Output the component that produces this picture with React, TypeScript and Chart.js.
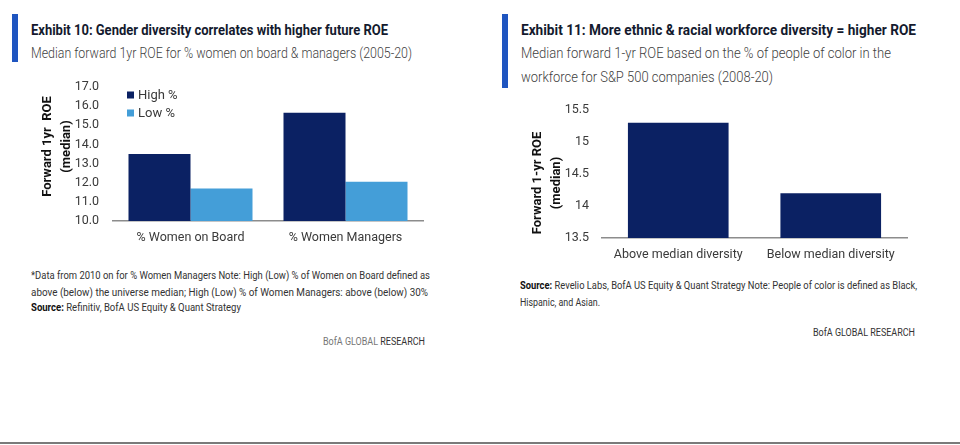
import React, { useEffect, useLayoutEffect, useRef } from "react";
import { Chart, registerables } from "chart.js";

Chart.register(...registerables);

// ---------- Data ----------
const catsA = ["% Women on Board", "% Women Managers"];
const seriesLabelsA = ["High %", "Low %"];
const highA = [13.5, 15.65];
const lowA = [11.7, 12.05];
const yTitleA = ["Forward 1yr  ROE", "(median)"];
const yMinA = 10;
const yMaxA = 17;
const yStepA = 1;

const catsB = ["Above median diversity", "Below median diversity"];
const valsB = [15.3, 14.2];
const yTitleB = ["Forward 1-yr ROE", "(median)"];
const yMinB = 13.5;
const yMaxB = 15.5;
const yStepB = 0.5;

// ---------- Styles ----------
const FONT = 'Roboto, "Liberation Sans", "DejaVu Sans", sans-serif';
const NAVY = "#0b2163";
const LIGHT = "#449ed8";
const ACCENT = "#1f55c0";
const AXIS = "#8c8c8c";
const TICK = "#3a3a3a";

const insideLegend = {
  id: "insideLegend",
  afterDatasetsDraw(chart: any, _args: any, opts: any) {
    if (!opts || !opts.enabled) return;
    const { ctx, chartArea } = chart;
    ctx.save();
    ctx.font = `13px ${FONT}`;
    ctx.textBaseline = "middle";
    ctx.textAlign = "left";
    chart.data.datasets.forEach((ds: any, i: number) => {
      const x = chartArea.left + 14;
      const y = chartArea.top + 8 + i * 18;
      ctx.fillStyle = ds.backgroundColor;
      ctx.fillRect(x, y - 3.5, 7, 7);
      ctx.fillStyle = TICK;
      ctx.fillText(ds.label, x + 11, y + 0.5);
    });
    ctx.restore();
  },
};

// Rotated two-line y-axis title, placed next to the y scale
const yAxisTitle = {
  id: "yAxisTitle",
  afterDraw(chart: any, _args: any, opts: any) {
    if (!opts || !opts.text) return;
    const { ctx, chartArea } = chart;
    const ys = chart.scales.y;
    const cy = (chartArea.top + chartArea.bottom) / 2 + (opts.dy || 0);
    ctx.save();
    ctx.font = `bold 13px ${FONT}`;
    ctx.fillStyle = "#111";
    ctx.textAlign = "center";
    ctx.textBaseline = "middle";
    opts.text.forEach((line: string, i: number) => {
      ctx.save();
      ctx.translate(ys.left + opts.x0 + i * opts.gap, cy);
      ctx.rotate(-Math.PI / 2);
      ctx.fillText(line, 0, 0);
      ctx.restore();
    });
    ctx.restore();
  },
};

function makeOptions(p: {
  yMin: number;
  yMax: number;
  yStep: number;
  yTitle: string[];
  titleDy: number;
  yWidth: number;
  xHeight: number;
  tickPad: number;
  padTop: number;
  padRight: number;
  fixed: boolean;
  legend: boolean;
}) {
  return {
    animation: false,
    responsive: false,
    maintainAspectRatio: false,
    layout: { padding: { top: p.padTop, right: p.padRight, left: 0, bottom: 0 } },
    plugins: {
      legend: { display: false },
      tooltip: { enabled: false },
      insideLegend: { enabled: p.legend },
      yAxisTitle: { text: p.yTitle, x0: 18, gap: 19, dy: p.titleDy },
    },
    scales: {
      x: {
        grid: { display: false, drawTicks: false },
        border: { display: true, color: AXIS, width: 1.5 },
        ticks: { color: TICK, font: { family: FONT, size: 12.5 }, padding: 9, autoSkip: false, maxRotation: 0 },
        afterFit: (s: any) => {
          s.height = p.xHeight;
          s.paddingLeft = 0;
          s.paddingRight = 0;
        },
      },
      y: {
        min: p.yMin,
        max: p.yMax,
        grid: { display: false, drawTicks: false },
        border: { display: false },
        ticks: {
          stepSize: p.yStep,
          autoSkip: false,
          color: TICK,
          font: { family: FONT, size: 12.5 },
          padding: p.tickPad,
          callback: (v: any) => (p.fixed ? Number(v).toFixed(1) : String(Number(v))),
        },
        title: { display: false },
        afterFit: (s: any) => {
          s.width = p.yWidth;
          s.paddingTop = 0;
          s.paddingBottom = 0;
        },
      },
    },
  };
}

function ChartA() {
  const ref = useRef<HTMLCanvasElement>(null);
  useEffect(() => {
    const chart = new Chart(ref.current as HTMLCanvasElement, {
      type: "bar",
      data: {
        labels: catsA,
        datasets: [
          {
            label: seriesLabelsA[0],
            data: highA,
            backgroundColor: NAVY,
            barPercentage: 1,
            categoryPercentage: 0.8,
          },
          {
            label: seriesLabelsA[1],
            data: lowA,
            backgroundColor: LIGHT,
            barPercentage: 1,
            categoryPercentage: 0.8,
          },
        ],
      },
      options: makeOptions({
        yMin: yMinA,
        yMax: yMaxA,
        yStep: yStepA,
        yTitle: yTitleA,
        titleDy: -7.5,
        yWidth: 83,
        xHeight: 29,
        tickPad: 14,
        padTop: 10,
        padRight: 7,
        fixed: true,
        legend: true,
      }) as any,
      plugins: [insideLegend as any, yAxisTitle as any],
    });
    return () => chart.destroy();
  }, []);
  return (
    <canvas
      ref={ref}
      width={400}
      height={173}
      style={{ position: "absolute", left: 30, top: 77, width: 400, height: 173 }}
    />
  );
}

function ChartB() {
  const ref = useRef<HTMLCanvasElement>(null);
  useEffect(() => {
    const chart = new Chart(ref.current as HTMLCanvasElement, {
      type: "bar",
      data: {
        labels: catsB,
        datasets: [
          {
            label: "Median forward 1-yr ROE",
            data: valsB,
            backgroundColor: NAVY,
            barPercentage: 1,
            categoryPercentage: 0.66,
          },
        ],
      },
      options: makeOptions({
        yMin: yMinB,
        yMax: yMaxB,
        yStep: yStepB,
        yTitle: yTitleB,
        titleDy: 9,
        yWidth: 82,
        xHeight: 29,
        tickPad: 13,
        padTop: 10,
        padRight: 8,
        fixed: false,
        legend: false,
      }) as any,
      plugins: [insideLegend as any, yAxisTitle as any],
    });
    return () => chart.destroy();
  }, []);
  return (
    <canvas
      ref={ref}
      width={395}
      height={167}
      style={{ position: "absolute", left: 520, top: 100, width: 395, height: 167 }}
    />
  );
}

// Text line squeezed horizontally to a given width (the source uses a condensed face)
function Fit(props: { left: number; center: number; width: number; lh: number; style: any; children: any }) {
  const ref = useRef<HTMLDivElement>(null);
  useLayoutEffect(() => {
    const apply = () => {
      const el = ref.current;
      if (!el) return;
      el.style.transform = "none";
      const w = el.getBoundingClientRect().width;
      if (w > 0) el.style.transform = `scaleX(${props.width / w})`;
    };
    apply();
    const fonts: any = (document as any).fonts;
    if (fonts && fonts.ready) fonts.ready.then(apply);
  });
  return (
    <div
      ref={ref}
      style={{
        position: "absolute",
        left: props.left,
        top: props.center - props.lh / 2,
        display: "inline-block",
        whiteSpace: "nowrap",
        lineHeight: `${props.lh}px`,
        transformOrigin: "left center",
        ...props.style,
      }}
    >
      {props.children}
    </div>
  );
}

export default function App() {
  const titleStyle = { fontFamily: FONT, fontWeight: 700, fontSize: 14, color: "#141a2e" };
  const subStyle = { fontFamily: FONT, fontWeight: 300, fontSize: 14, color: "#3f3f3f" };
  const noteStyle = { fontFamily: FONT, fontSize: 10.5, color: "#333" };
  return (
    <div
      style={{
        position: "absolute",
        left: 0,
        top: 0,
        width: 960,
        height: 445,
        background: "#fff",
        overflow: "hidden",
        fontFamily: FONT,
      }}
    >
      {/* Left panel */}
      <div style={{ position: "absolute", left: 12, top: 14, width: 6, height: 48, background: ACCENT }} />
      <Fit left={31} center={30} width={357} lh={18} style={titleStyle}>
        Exhibit 10: Gender diversity correlates with higher future ROE
      </Fit>
      <Fit left={31} center={52.5} width={381} lh={20} style={subStyle}>
        Median forward 1yr ROE for % women on board &amp; managers (2005-20)
      </Fit>
      <ChartA />
      <Fit left={31} center={275.5} width={399} lh={14} style={noteStyle}>
        *Data from 2010 on for % Women Managers Note: High (Low) % of Women on Board defined as
      </Fit>
      <Fit left={31} center={292.5} width={397} lh={14} style={noteStyle}>
        above (below) the universe median; High (Low) % of Women Managers: above (below) 30%
      </Fit>
      <Fit left={31} center={307.5} width={210} lh={14} style={noteStyle}>
        <b style={{ color: "#111" }}>Source:</b> Refinitiv, BofA US Equity &amp; Quant Strategy
      </Fit>
      <Fit left={323} center={342} width={102} lh={14} style={noteStyle}>
        <span style={{ color: "#777" }}>BofA GLOBAL </span>
        <span style={{ color: "#333" }}>RESEARCH</span>
      </Fit>

      {/* Right panel */}
      <div style={{ position: "absolute", left: 502, top: 14, width: 6, height: 74, background: ACCENT }} />
      <Fit left={521} center={30} width={395} lh={18} style={titleStyle}>
        Exhibit 11: More ethnic &amp; racial workforce diversity = higher ROE
      </Fit>
      <Fit left={521} center={52.5} width={370} lh={20} style={subStyle}>
        Median forward 1-yr ROE based on the % of people of color in the
      </Fit>
      <Fit left={521} center={77} width={252} lh={20} style={subStyle}>
        workforce for S&amp;P 500 companies (2008-20)
      </Fit>
      <ChartB />
      <Fit left={520} center={286} width={397} lh={14} style={noteStyle}>
        <b style={{ color: "#111" }}>Source:</b> Revelio Labs, BofA US Equity &amp; Quant Strategy Note: People of color
        is defined as Black,
      </Fit>
      <Fit left={520} center={303} width={80} lh={14} style={noteStyle}>
        Hispanic, and Asian.
      </Fit>
      <Fit left={813} center={333} width={102} lh={14} style={noteStyle}>
        <span style={{ color: "#333" }}>BofA GLOBAL RESEARCH</span>
      </Fit>

      {/* bottom rule */}
      <div style={{ position: "absolute", left: 0, top: 442, width: 960, height: 2, background: "#7a7a7a" }} />
    </div>
  );
}
